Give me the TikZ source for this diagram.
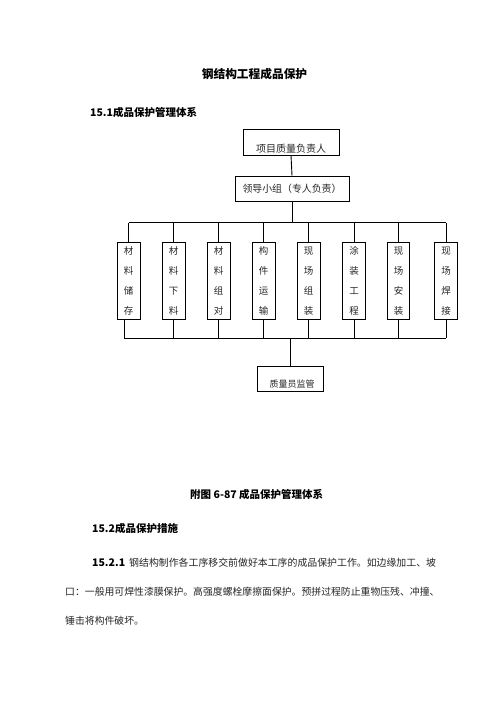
\documentclass[tikz,border=0pt]{standalone}
\usepackage{fontspec}
\setmainfont{Noto Sans CJK SC}
\usetikzlibrary{calc}
\begin{document}
\begin{tikzpicture}[x=1pt,y=-1pt,
  box/.style={draw, line width=0.9pt, inner sep=0pt},
  link/.style={line width=0.9pt},
  txt/.style={inner sep=0pt, text=black!85},
  head/.style={inner sep=0pt, font=\bfseries\fontsize{10.5}{12}\selectfont},
  member/.style={box, minimum width=22.7pt, minimum height=77pt, align=center,
                 font=\fontsize{9.5}{20}\selectfont, text=black!85}]
\useasboundingbox[fill=white] (0,0) rectangle (496,702);

% title and headings
\node[inner sep=0pt, font=\bfseries\fontsize{11.7}{14}\selectfont] (title) at (254.5,74.5) {钢结构工程成品保护};
\node[head, anchor=west] (h151) at (90,112) {15.1成品保护管理体系};

% top boxes
\node[box, minimum width=96pt, minimum height=26pt] (b1) at (291,142) {};
\node[txt, font=\fontsize{10}{12}\selectfont] (b1t) at (291,148.5) {项目质量负责人};
\node[box, minimum width=114pt, minimum height=25pt, font=\fontsize{9.9}{12}\selectfont, text=black!85] (b2) at (292,188.5) {领导小组（专人负责）};
\draw[link] (b1.south) -- (b2.north);

% members
\node[member] (m1) at (128.7,280.7) {材\\料\\储\\存};
\node[member] (m2) at (173.7,280.7) {材\\料\\下\\料};
\node[member] (m3) at (218.7,280.7) {材\\料\\组\\对};
\node[member] (m4) at (263.7,280.7) {构\\件\\运\\输};
\node[member] (m5) at (308.7,280.7) {现\\场\\组\\装};
\node[member] (m6) at (354,280.7) {涂\\装\\工\\程};
\node[member] (m7) at (398.5,280.7) {现\\场\\安\\装};
\node[member] (m8) at (446.2,280.7) {现\\场\\焊\\接};

% top bus
\coordinate (topbus) at (0,222.5);
\draw[link] (b2.south) -- (b2.south |- topbus);
\draw[link] (m1.north |- topbus) -- (m8.north |- topbus);
\foreach \i in {1,...,8}{
  \draw[link] (m\i.north) -- (m\i.north |- topbus);
}

% bottom box and bus
\node[box, minimum width=66pt, minimum height=25pt] (q) at (290,378.5) {};
\node[txt, font=\fontsize{9}{11}\selectfont] (qt) at (292,384.5) {质量员监管};
\coordinate (botbus) at (0,338.3);
\coordinate (m1b) at ($(m1.south)+(-4.4,0)$);
\draw[link] (m1b |- botbus) -- (m8.south |- botbus);
\draw[link] (m1b) -- (m1b |- botbus);
\foreach \i in {2,...,8}{
  \draw[link] (m\i.south) -- (m\i.south |- botbus);
}
\draw[link] (q.north) -- (q.north |- botbus);

% caption and text
\node[head, anchor=west] (cap) at (190,494) {附图 6-87 成品保护管理体系};
\node[head, anchor=west] (h152) at (92,528.5) {15.2成品保护措施};
\node[head, anchor=west] (p0) at (92,563) {15.2.1};
\node[txt, anchor=west, font=\fontsize{9.9}{12}\selectfont] (p1) at (129,563) {钢结构制作各工序移交前做好本工序的成品保护工作。如边缘加工、坡};
\node[txt, anchor=west, font=\fontsize{9.85}{12}\selectfont] (p2) at (65,592) {口：一般用可焊性漆膜保护。高强度螺栓摩擦面保护。预拼过程防止重物压残、冲撞、};
\node[txt, anchor=west, font=\fontsize{9.85}{12}\selectfont] (p3) at (65,620.5) {锤击将构件破坏。};
\end{tikzpicture}
\end{document}
